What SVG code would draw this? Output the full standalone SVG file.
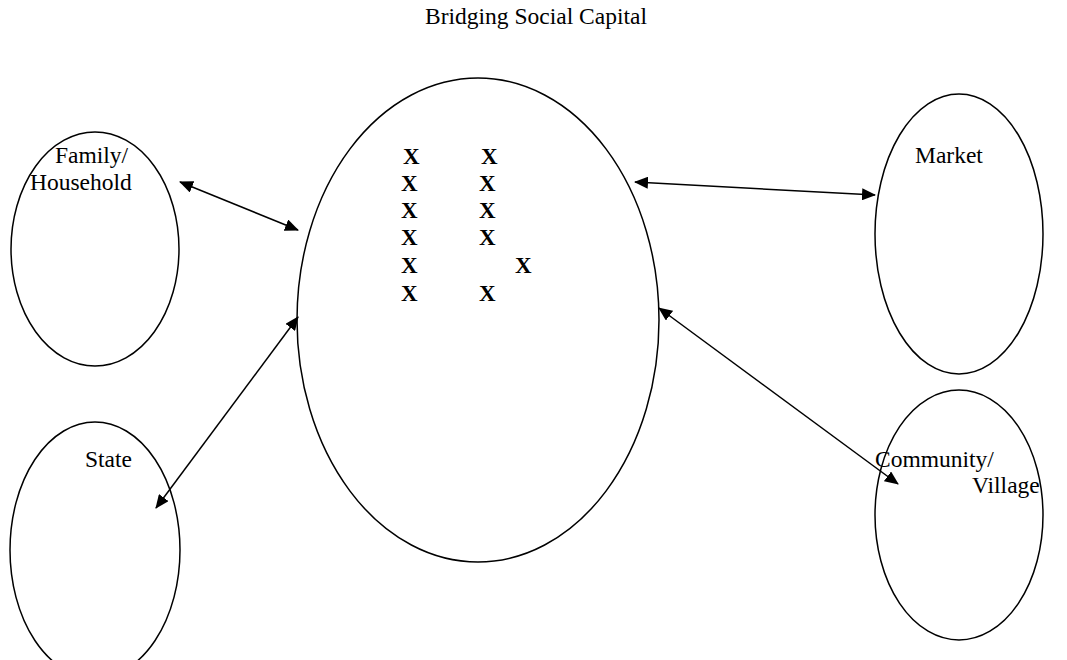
<svg xmlns="http://www.w3.org/2000/svg" width="1067" height="660" viewBox="0 0 1067 660">
<style>
.n{fill:none;stroke:#000;stroke-width:1.5}
.t{font-family:"Liberation Serif",serif;font-size:23.5px;fill:#000}
.x{font-family:"Liberation Serif",serif;font-size:23px;font-weight:bold;fill:#000}
.c{stroke:#000;stroke-width:1.5;fill:none;marker-start:url(#a);marker-end:url(#a)}
</style>
<defs>
<marker id="a" viewBox="0 0 14 12" refX="13" refY="6" markerWidth="14" markerHeight="12" markerUnits="userSpaceOnUse" orient="auto-start-reverse">
<path d="M0,0 L14,6 L0,12 Z" fill="#000"/>
</marker>
</defs>
<rect width="1067" height="660" fill="#fff"/>
<text class="t" x="536" y="24" text-anchor="middle">Bridging Social Capital</text>
<g id="family"><ellipse class="n" cx="95" cy="249" rx="84" ry="117"/><text class="t" x="55" y="163">Family/</text><text class="t" x="30" y="190">Household</text></g>
<g id="state"><ellipse class="n" cx="95" cy="550" rx="85" ry="128"/><text class="t" x="85" y="467">State</text></g>
<g id="center"><ellipse class="n" cx="478" cy="320" rx="181" ry="242"/>
<text class="x" x="403" y="164">X</text><text class="x" x="481" y="164">X</text>
<text class="x" x="401" y="191">X</text><text class="x" x="479" y="191">X</text>
<text class="x" x="401" y="218">X</text><text class="x" x="479" y="218">X</text>
<text class="x" x="401" y="245">X</text><text class="x" x="479" y="245">X</text>
<text class="x" x="401" y="273">X</text><text class="x" x="515" y="273">X</text>
<text class="x" x="401" y="301">X</text><text class="x" x="479" y="301">X</text>
</g>
<g id="market"><ellipse class="n" cx="959" cy="234" rx="84" ry="140"/><text class="t" x="915" y="163">Market</text></g>
<g id="community"><ellipse class="n" cx="959" cy="515" rx="84" ry="125"/><text class="t" x="875" y="467">Community/</text><text class="t" x="972" y="493">Village</text></g>
<g id="connectors">
<line class="c" x1="180" y1="182" x2="298" y2="230"/>
<line class="c" x1="156" y1="508" x2="298" y2="317"/>
<line class="c" x1="635" y1="182" x2="875" y2="195"/>
<line class="c" x1="659" y1="308" x2="898" y2="484"/>
</g>
</svg>
